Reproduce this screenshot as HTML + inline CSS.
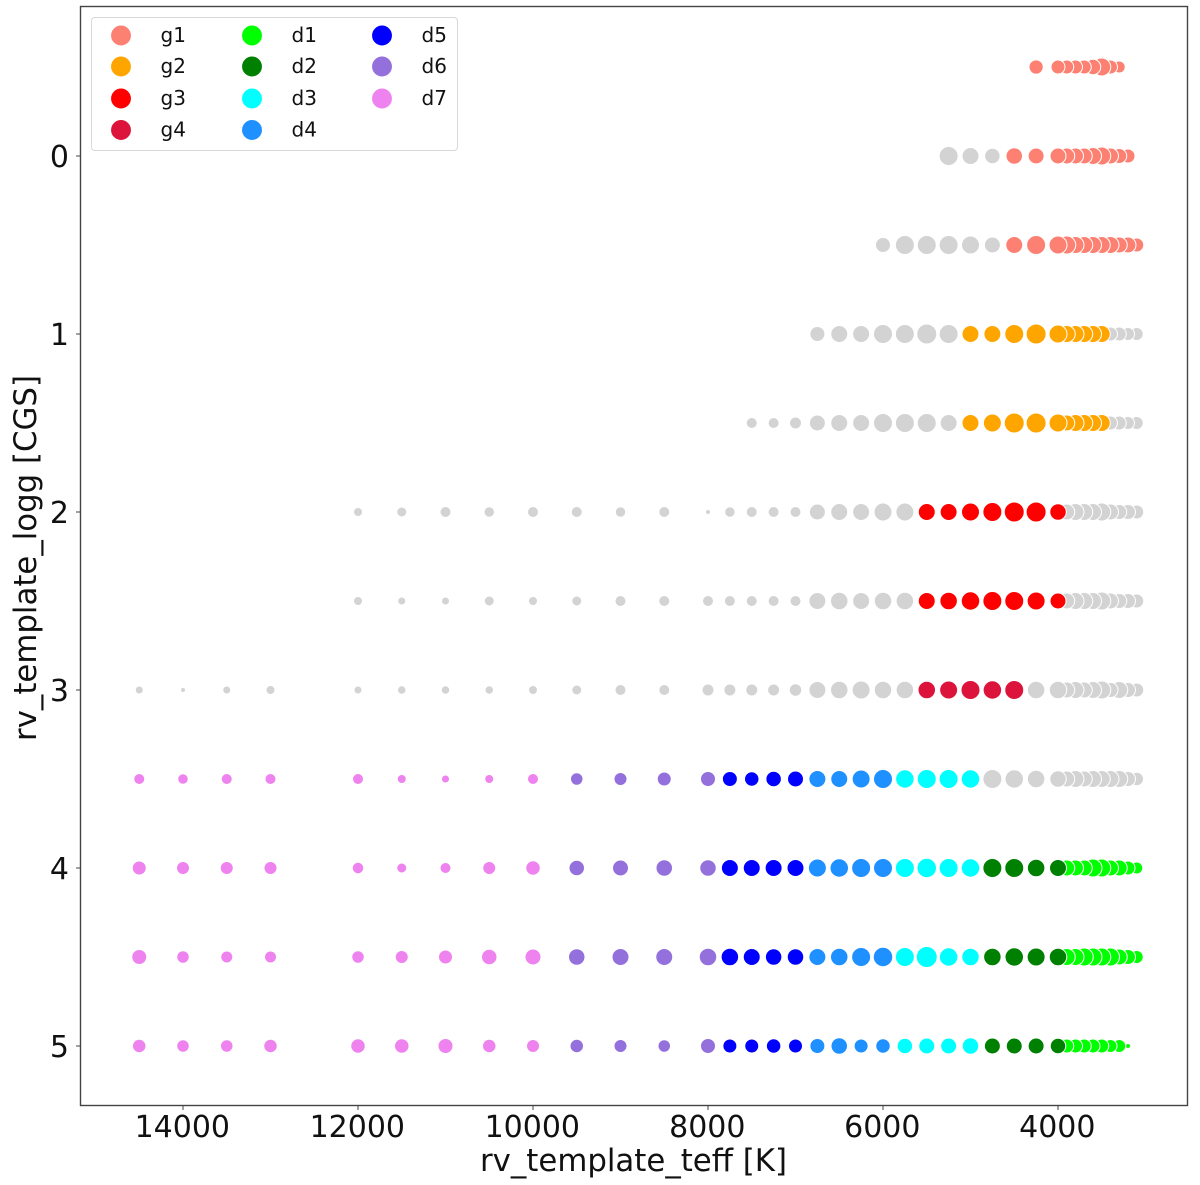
<!DOCTYPE html>
<html lang="en">
<head>
<meta charset="utf-8">
<title>rv_template scatter</title>
<style>
  html, body { margin: 0; padding: 0; background: #fff; }
  svg { display: block; filter: blur(0.35px); }
  text { font-family: "DejaVu Sans", "Liberation Sans", sans-serif; fill: #111; }
</style>
</head>
<body>
<svg id="chart" xmlns="http://www.w3.org/2000/svg" width="1200" height="1185" viewBox="0 0 1200 1185">
  <rect x="80" y="6" width="1108" height="1099.5" fill="#fff"/>
  <g id="ticks"></g>
  <g id="points"></g>
  <rect x="80.5" y="6.5" width="1107" height="1099" fill="none" stroke="#444" stroke-width="1.4"/>
  <g id="legend">
    <rect x="91.5" y="17.5" width="366" height="133" rx="3.5" fill="#fff" fill-opacity="0.8" stroke="#d8d8d8" stroke-width="1"/>
  </g>
  <text x="633.5" y="1171" text-anchor="middle" font-size="30.8">rv_template_teff [K]</text>
  <text transform="translate(36,558) rotate(-90)" text-anchor="middle" font-size="30.8">rv_template_logg [CGS]</text>
</svg>
<script>
// Temperature grid shared by every row, coolest first (that is also the draw order).
const teffGrid = [3100,3200,3300,3400,3500,3600,3700,3800,3900,
  4000,4250,4500,4750,5000,5250,5500,5750,6000,6250,6500,6750,7000,7250,7500,7750,8000,
  8500,9000,9500,10000,10500,11000,11500,12000,
  13000,13500,14000,14500];

// Surface gravity of each row.
const loggRows = [-0.5,0,0.5,1,1.5,2,2.5,3,3.5,4,4.5,5];

// Marker size per grid temperature for each row; 0 or missing means no point.
const sizesLoggM05 = [0,0,11,13,17,14.5,13,13,13,13,13.3];
const sizesLogg00 = [0,13,14,15,17,16,15,15,15,15,15,15.5,14.5,16,18];
const sizesLogg05 = [13,15,15,16,16,16,16,16,17,17,18,16,15,17,18,18,18,14];
const sizesLogg10 = [12,12,13,13,16,16,16,16,16,17,19,18,16,16,18,19,18,18,16,16,14];
const sizesLogg15 = [12,12,13,13,16,16,16,16,15,17,19,19,17,16,16,18,18,18,16,16,15,11,10,10];
const sizesLogg20 = [13,14,14,15,17,16,16,16,15,15.5,19,19,18,17,16,16,17,17,16,16,15,10,10,10,9.5,4,10,9.5,10,10,9.5,10,9,8];
const sizesLogg25 = [13,14,14,15,17,16,16,16,15,15,17,18,18,17.5,16.5,16,16.5,16.5,16,16.5,16,10,10,10,10,10,10,10,9,8,9,7,7,8];
const sizesLogg30 = [13,14,16,14,17,16,15,16,15,16.5,16.5,18,17.5,18,17,16.5,16.5,16.5,17,16.5,16,11.5,11,11,11,11,10,10,9,8,7.5,7.5,7.5,7,8,7,4,7];
const sizesLogg35 = [12.5,14,16,16,16,16,15,16,15,15.5,16.5,17.5,18,17.5,18,18,17.5,18,17,16,16,15,14.5,13.5,14,14,13,12,11.5,10,8,7,8,10,10,10,9.5,10];
const sizesLogg40 = [11,13,15,15,17,17,15,15,15,16,16.5,18,18,17.5,18,18.5,18,18,18,17.5,17,16,16,16,16,15.5,15.5,15,14.5,13.5,12,10,9,10.5,12,12,12,13];
const sizesLogg45 = [12,14,15,17,17,17,17,16,16,16.5,17,17.5,16.5,16.5,17.5,20,18,18.5,18,16.5,16,15.5,15.5,16,16.5,16.5,16,16,15.5,15,14.5,13,12,11.5,11,11,11.5,14];
const sizesLogg50 = [0,4,12,12,13,13,13,13,13,14.5,15,15,15,15.5,15,15,14.5,13.5,13,15.5,14,13,13.5,13,13,14,11.5,12,12.5,12,12.5,14,13.5,13.5,12.5,11.5,11.5,12.5];
const rowSizes = [sizesLoggM05,sizesLogg00,sizesLogg05,sizesLogg10,sizesLogg15,sizesLogg20,sizesLogg25,sizesLogg30,sizesLogg35,sizesLogg40,sizesLogg45,sizesLogg50];

// Spectral classes and the logg / teff ranges they cover.
const classNames = ['g1','g2','g3','g4','d1','d2','d3','d4','d5','d6','d7'];
const classLoggMin = [-0.5,1,2,3,4,4,3.5,3.5,3.5,3.5,3.5];
const classLoggMax = [0.5,1.5,2.5,3,5,5,5,5,5,5,5];
const classTeffMin = [3000,3500,4000,4500,3000,4000,5000,6000,7000,8000,10000];
const classTeffMax = [4500,5000,5500,5500,3900,4750,5750,6750,7750,9500,15000];
const classColors = ['#fc8172','#ffa500','#ff0000','#dc143c','#00ff00','#008000','#00ffff','#1e90ff','#0000ff','#9370db','#ee82ee'];
const unclassifiedColor = '#d3d3d3';

// Tick labels.
const xTickValues = [14000,12000,10000,8000,6000,4000];
const yTickValues = [0,1,2,3,4,5];

const NS = 'http://www.w3.org/2000/svg';
const xScale = t => 1058 - (t - 4000) * 0.0875;
const yScale = g => 156 + g * 178;

function makeEl(tag, attrs, parent) {
  const el = document.createElementNS(NS, tag);
  for (const k in attrs) el.setAttribute(k, attrs[k]);
  parent.appendChild(el);
  return el;
}

function classIndex(teff, logg) {
  for (let i = 0; i < classNames.length; i++) {
    if (logg >= classLoggMin[i] && logg <= classLoggMax[i] && teff >= classTeffMin[i] && teff <= classTeffMax[i]) return i;
  }
  return -1;
}

const ticksGroup = document.getElementById('ticks');
xTickValues.forEach(v => {
  const x = xScale(v);
  const tick = makeEl('line', {x1: x, x2: x, y1: 1105.5, y2: 1110, stroke: '#444', 'stroke-width': 1}, ticksGroup);
  
  
  const label = makeEl('text', {x: x - 0.7, y: 1137, 'text-anchor': 'middle', 'font-size': 30}, ticksGroup);
  
  
  label.textContent = String(v);
});
yTickValues.forEach(v => {
  const y = yScale(v);
  const tick = makeEl('line', {x1: 76, x2: 80, y1: y, y2: y, stroke: '#444', 'stroke-width': 1}, ticksGroup);
  
  
  const label = makeEl('text', {x: 69, y: y + 11, 'text-anchor': 'end', 'font-size': 30}, ticksGroup);
  
  
  label.textContent = String(v);
});

const pointsGroup = document.getElementById('points');
loggRows.forEach((logg, r) => {
  teffGrid.forEach((teff, c) => {
    const size = rowSizes[r][c];
    if (!size) return;
    const k = classIndex(teff, logg);
    const dot = makeEl('circle', {
      cx: xScale(teff), cy: yScale(logg), r: size / 2 + 0.5,
      fill: k < 0 ? unclassifiedColor : classColors[k],
      stroke: '#fff', 'stroke-width': 1
    }, pointsGroup);
    
    
  });
});

const legendGroup = document.getElementById('legend');
const legendColumnX = [121, 252, 382];
const legendRowY = [35.5, 66.5, 98.5, 130];
const legendRowsPerColumn = [4, 4, 3];
let legendIndex = 0;
legendRowsPerColumn.forEach((count, col) => {
  for (let row = 0; row < count; row++) {
    const swatch = makeEl('circle', {cx: legendColumnX[col], cy: legendRowY[row], r: 10.3, fill: classColors[legendIndex], stroke: '#fff', 'stroke-width': 0.7}, legendGroup);
    
    
    const entry = makeEl('text', {x: legendColumnX[col] + 39.5, y: legendRowY[row] + 6.5, 'font-size': 20}, legendGroup);
    
    
    entry.textContent = classNames[legendIndex];
    legendIndex++;
  }
});
</script>
</body>
</html>
